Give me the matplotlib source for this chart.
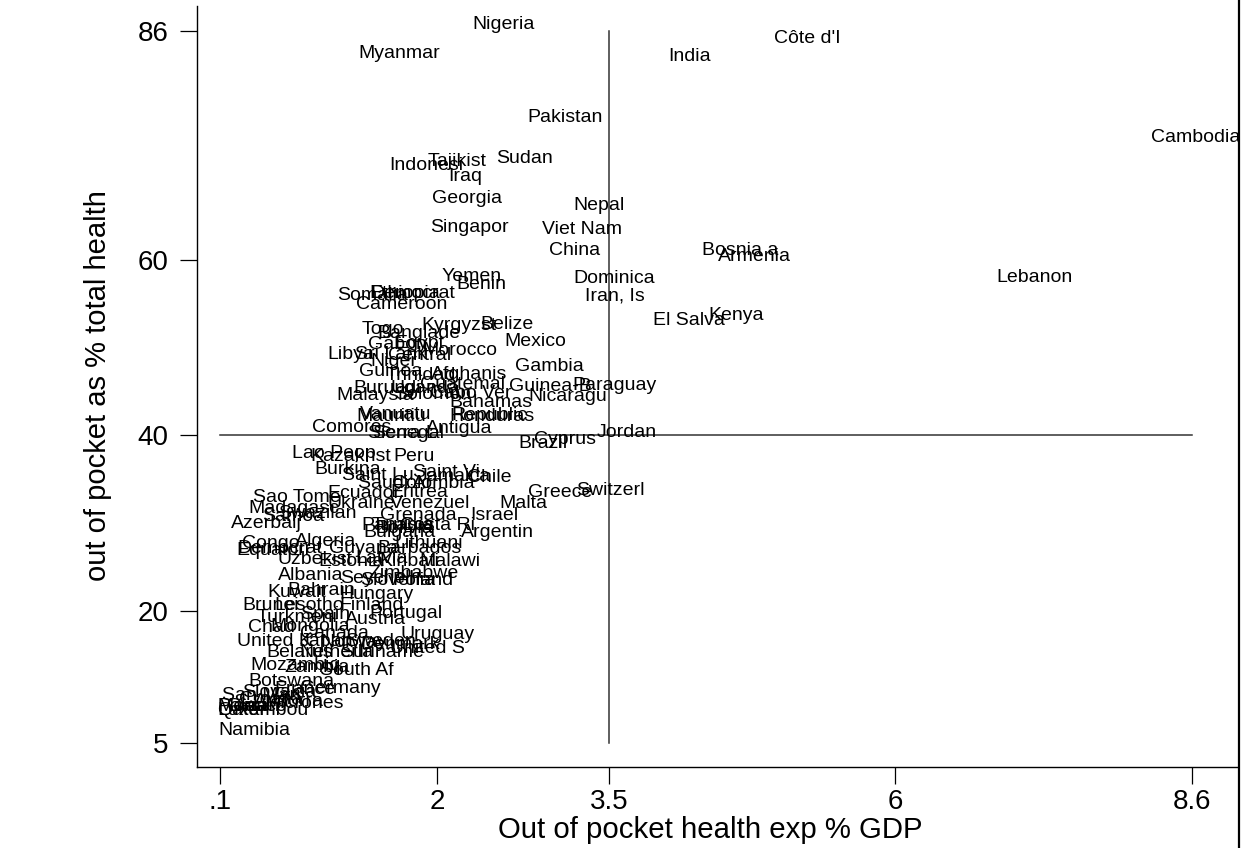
import matplotlib
matplotlib.use("Agg")
import matplotlib.pyplot as plt
from matplotlib.lines import Line2D

plt.rcParams['font.family'] = ['Liberation Sans', 'DejaVu Sans']

# country labels (truncated to 8 chars as in the source graph)
countries = [
    "Nigeria", "Myanmar", "India", "Côte d'I", "Pakistan", "Cambodia", "Tajikist", "Sudan",
    "Indonesi", "Iraq", "Georgia", "Nepal", "Singapor", "Viet Nam", "China", "Bosnia a",
    "Armenia", "Lebanon", "Yemen", "Benin", "Dominica", "Iran, Is", "Somalia", "Ethiopia",
    "Democrat", "Cameroon", "El Salva", "Kenya", "Togo", "Banglade", "Kyrgyzst", "Belize",
    "Mexico", "Gabon", "Egypt", "Morocco", "Libya", "Sri Lank", "Central", "Niger",
    "Gambia", "Guinea", "Trinidad", "Afghanis", "Guinea-B", "Paraguay", "Guatemal", "Nicaragu",
    "Bahamas", "Malaysia", "Burundi", "Uganda", "Solomon", "Cabo Ver", "Honduras", "Republic",
    "Mauritiu", "Vanuatu", "Comoros", "Senegal", "Sierra L", "Antigua", "Cyprus", "Brazil",
    "Jordan", "Lao Peop", "Kazakhst", "Peru", "Burkina", "Saint Lu", "Saint Vi", "Jamaica",
    "Chile", "Saudi Ar", "Colombia", "Ecuador", "Eritrea", "Sao Tome", "Ukraine", "Venezuel",
    "Malta", "Greece", "Switzerl", "Madagasc", "Israel", "Argentin", "Costa Ri", "Grenada",
    "Swazilan", "Samoa", "Azerbaij", "Panama", "Tunisia", "Bulgaria", "Bolivia", "Congo",
    "Algeria", "Democrat", "Equatori", "Lithuani", "Barbados", "Guyana", "Uzbekist", "Estonia",
    "Latvia", "Kiribati", "Malawi", "Albania", "Zimbabwe", "Seychell", "Poland", "Slovenia",
    "Kuwait", "Bahrain", "Hungary", "Brunei", "Lesotho", "Finland", "Turkmeni", "Spain",
    "Austria", "Portugal", "Chad", "Mongolia", "Canada", "Uruguay", "United K", "Japan",
    "Norway", "Sweden", "Denmark", "United S", "Belarus", "Netherla", "Suriname", "Mozambiq",
    "Zambia", "South Af", "Botswana", "Germany", "France", "Slovakia", "San Mari", "Croatia",
    "Andorra", "Micrones", "Palau", "Monaco", "Luxembou", "Qatar", "Oman", "Namibia",
]

# out of pocket health expenditure, % of GDP
oop_gdp = [
    2.28, 1.28, 3.99, 4.92, 2.76, 8.21, 1.89, 2.49,
    1.55, 2.07, 1.93, 3.16, 1.91, 2.89, 2.95, 4.29,
    4.43, 6.86, 2.01, 2.14, 3.16, 3.26, 1.10, 1.38,
    1.39, 1.26, 3.86, 4.34, 1.31, 1.45, 1.83, 2.35,
    2.56, 1.37, 1.60, 1.84, 1.01, 1.25, 1.54, 1.39,
    2.65, 1.29, 1.52, 1.92, 2.60, 3.15, 1.82, 2.77,
    2.08, 1.09, 1.24, 1.56, 1.60, 1.91, 2.08, 2.10,
    1.27, 1.30, 0.88, 1.40, 1.37, 1.87, 2.82, 2.68,
    3.37, 0.70, 0.86, 1.59, 0.90, 1.14, 1.76, 1.80,
    2.23, 1.28, 1.58, 1.01, 1.56, 0.36, 1.01, 1.56,
    2.52, 2.77, 3.19, 0.32, 2.26, 2.18, 1.65, 1.47,
    0.58, 0.44, 0.17, 1.31, 1.40, 1.33, 1.43, 0.27,
    0.73, 0.23, 0.22, 1.60, 1.45, 1.03, 0.58, 0.93,
    1.26, 1.47, 1.82, 0.58, 1.37, 1.12, 1.58, 1.30,
    0.49, 0.66, 1.12, 0.27, 0.55, 1.12, 0.39, 0.77,
    1.17, 1.38, 0.32, 0.51, 0.77, 1.65, 0.22, 0.77,
    0.95, 1.17, 1.30, 1.56, 0.48, 0.77, 1.12, 0.34,
    0.64, 0.95, 0.32, 0.77, 0.55, 0.27, 0.09, 0.24,
    0.37, 0.46, 0.05, 0.05, 0.05, 0.05, 0.13, 0.06,
]

# out of pocket as % of total health expenditure
oop_share = [
    86.8, 83.4, 83.15, 85.2, 76.2, 73.9, 71.2, 71.5,
    70.7, 69.4, 67.0, 66.2, 63.6, 63.4, 61.05, 61.05,
    60.4, 58.0, 58.1, 57.2, 57.9, 55.9, 55.9, 56.15,
    56.15, 54.9, 53.1, 53.65, 52.05, 51.6, 52.5, 52.6,
    50.7, 50.35, 50.45, 49.65, 49.2, 49.2, 49.1, 48.4,
    47.8, 47.3, 46.8, 46.9, 45.55, 45.7, 45.8, 44.4,
    43.7, 44.5, 45.3, 45.3, 44.6, 44.8, 42.15, 42.25,
    42.15, 42.4, 40.9, 40.2, 40.2, 40.8, 39.5, 39.05,
    40.3, 37.9, 37.6, 37.6, 36.1, 35.4, 35.75, 35.3,
    35.2, 34.5, 34.5, 33.4, 33.5, 32.9, 32.2, 32.3,
    32.2, 33.5, 33.7, 31.7, 30.9, 29.0, 29.7, 30.9,
    31.1, 30.75, 29.95, 29.7, 29.8, 28.9, 29.4, 27.7,
    27.9, 27.1, 26.9, 27.7, 27.1, 27.1, 25.85, 25.7,
    26.0, 25.7, 25.7, 24.1, 24.25, 23.7, 23.45, 23.45,
    22.1, 22.4, 21.9, 20.6, 20.7, 20.6, 19.25, 19.6,
    19.1, 19.7, 18.1, 18.2, 17.5, 17.4, 16.6, 16.6,
    16.4, 16.6, 16.2, 15.8, 15.25, 15.25, 15.25, 13.8,
    13.55, 13.2, 11.95, 11.15, 11.05, 10.7, 10.35, 9.9,
    9.7, 9.45, 9.1, 9.1, 8.65, 8.75, 9.2, 6.4,
]

xticks = [0.1, 2, 3.5, 6, 8.6]
xticklabels = [".1", "2", "3.5", "6", "8.6"]
yticks = [5, 20, 40, 60, 86]

W, H = 1251, 848
fig = plt.figure(figsize=(W / 100, H / 100), dpi=100)
ax = fig.add_axes([197 / W, 1 - 767 / H, (1238 - 197) / W, (767 - 6) / H])

ax.set_xlim(-0.101, 8.998)
ax.set_ylim(2.27, 88.85)

# reference lines at the means
ax.plot([3.5, 3.5], [5, 86], color="#333333", lw=1.1, zorder=1)
ax.plot([0.1, 8.6], [40, 40], color="#333333", lw=1.1, zorder=1)

# labels only, no markers
for name, x, y in zip(countries, oop_gdp, oop_share):
    ax.annotate(name, (x, y), xytext=(3, 0), textcoords="offset pixels",
                ha="left", va="center", fontsize=14, color="black",
                clip_on=True, zorder=3)

for s in ["top", "right"]:
    ax.spines[s].set_visible(False)
for s in ["left", "bottom"]:
    ax.spines[s].set_linewidth(1.0)

ax.set_xticks(xticks)
ax.set_xticklabels(xticklabels)
ax.set_yticks(yticks)
ax.tick_params(direction="out", length=12, width=0.9, labelsize=20)
ax.tick_params(axis="y", pad=8.5)
ax.tick_params(axis="x", pad=3.5)

ax.set_xlabel("Out of pocket health exp % GDP", fontsize=21.2)
ax.xaxis.set_label_coords((710 - 197) / (1238 - 197), -(816 - 767) / (767 - 6))
ax.set_ylabel("out of pocket as % total health", fontsize=21)
ax.yaxis.set_label_coords(-(197 - 112) / (1238 - 197), (767 - 386) / (767 - 6))

# right frame edge of the exported graph
fig.add_artist(Line2D([1238.5 / W, 1238.5 / W], [0, 1], transform=fig.transFigure,
                      color="black", lw=1.6))

fig.savefig("out.png", dpi=100, facecolor="white")
